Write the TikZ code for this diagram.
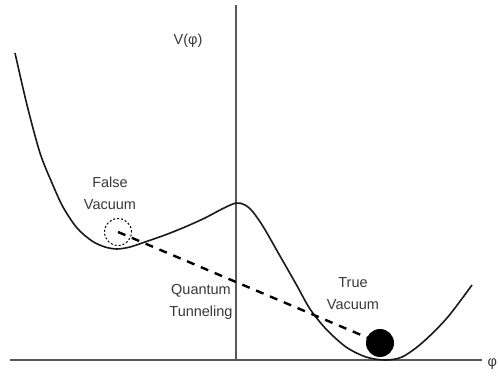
\documentclass[tikz,border=0pt]{standalone}
\usepackage{fontspec}
\setmainfont{Liberation Sans}
\begin{document}
\begin{tikzpicture}[x=1pt,y=-1pt,
  lbl/.style={font=\fontsize{14.5}{22}\selectfont, text=black!78, align=center, inner sep=0pt},
  axisline/.style={draw=black!65, line width=1.4pt},
  potential/.style={draw=black!90, line width=1.6pt},
  tunnel/.style={draw=black, line width=2.4pt, dash pattern=on 8pt off 7pt},
  bubble/.style={circle, draw=black, dash pattern=on 2pt off 2pt, line width=1pt, minimum size=27pt, inner sep=0pt},
  ballstyle/.style={circle, fill=black, minimum size=28pt, inner sep=0pt}]
\useasboundingbox (0,0) rectangle (498,379);
% axes
\coordinate (xl) at (10,360);
\coordinate (xr) at (482,360);
\coordinate (yt) at (236,5);
\coordinate (yb) at (236,360);
\draw[axisline] (xl) -- (xr);
\draw[axisline] (yt) -- (yb);
\node[lbl, anchor=west] (phi) at (487.5,364) {φ};
\node[lbl] (vphi) at (188,41) {V(φ)};
% potential
\draw[potential] plot[smooth, tension=0.5] coordinates {
 (15,53) (27,105) (40,153) (52,183) (63,207) (77,228) (92,241) (105,247) (117,249) (130,247) (145,242)
 (165,235) (185,227) (205,218) (222,209) (236,203) (245,205)
 (253,212) (264,228) (280,256) (296,284) (310,309) (326,329) (346,347) (366,357) (385,360)
 (402,357) (422,343) (447,318) (472,285)};
% false vacuum bubble and true vacuum ball
\node[bubble] (fv) at (118,232) {};
\node[ballstyle] (tv) at (380,343) {};
\draw[tunnel] (fv.center) -- (tv.center);
% labels
\node[lbl] (fvlabel) at (110,193) {False\\Vacuum};
\node[lbl] (qt) at (201,302) {Quantum\\Tunneling};
\node[lbl] (tvlabel) at (353,294) {True\\Vacuum};
\end{tikzpicture}
\end{document}
